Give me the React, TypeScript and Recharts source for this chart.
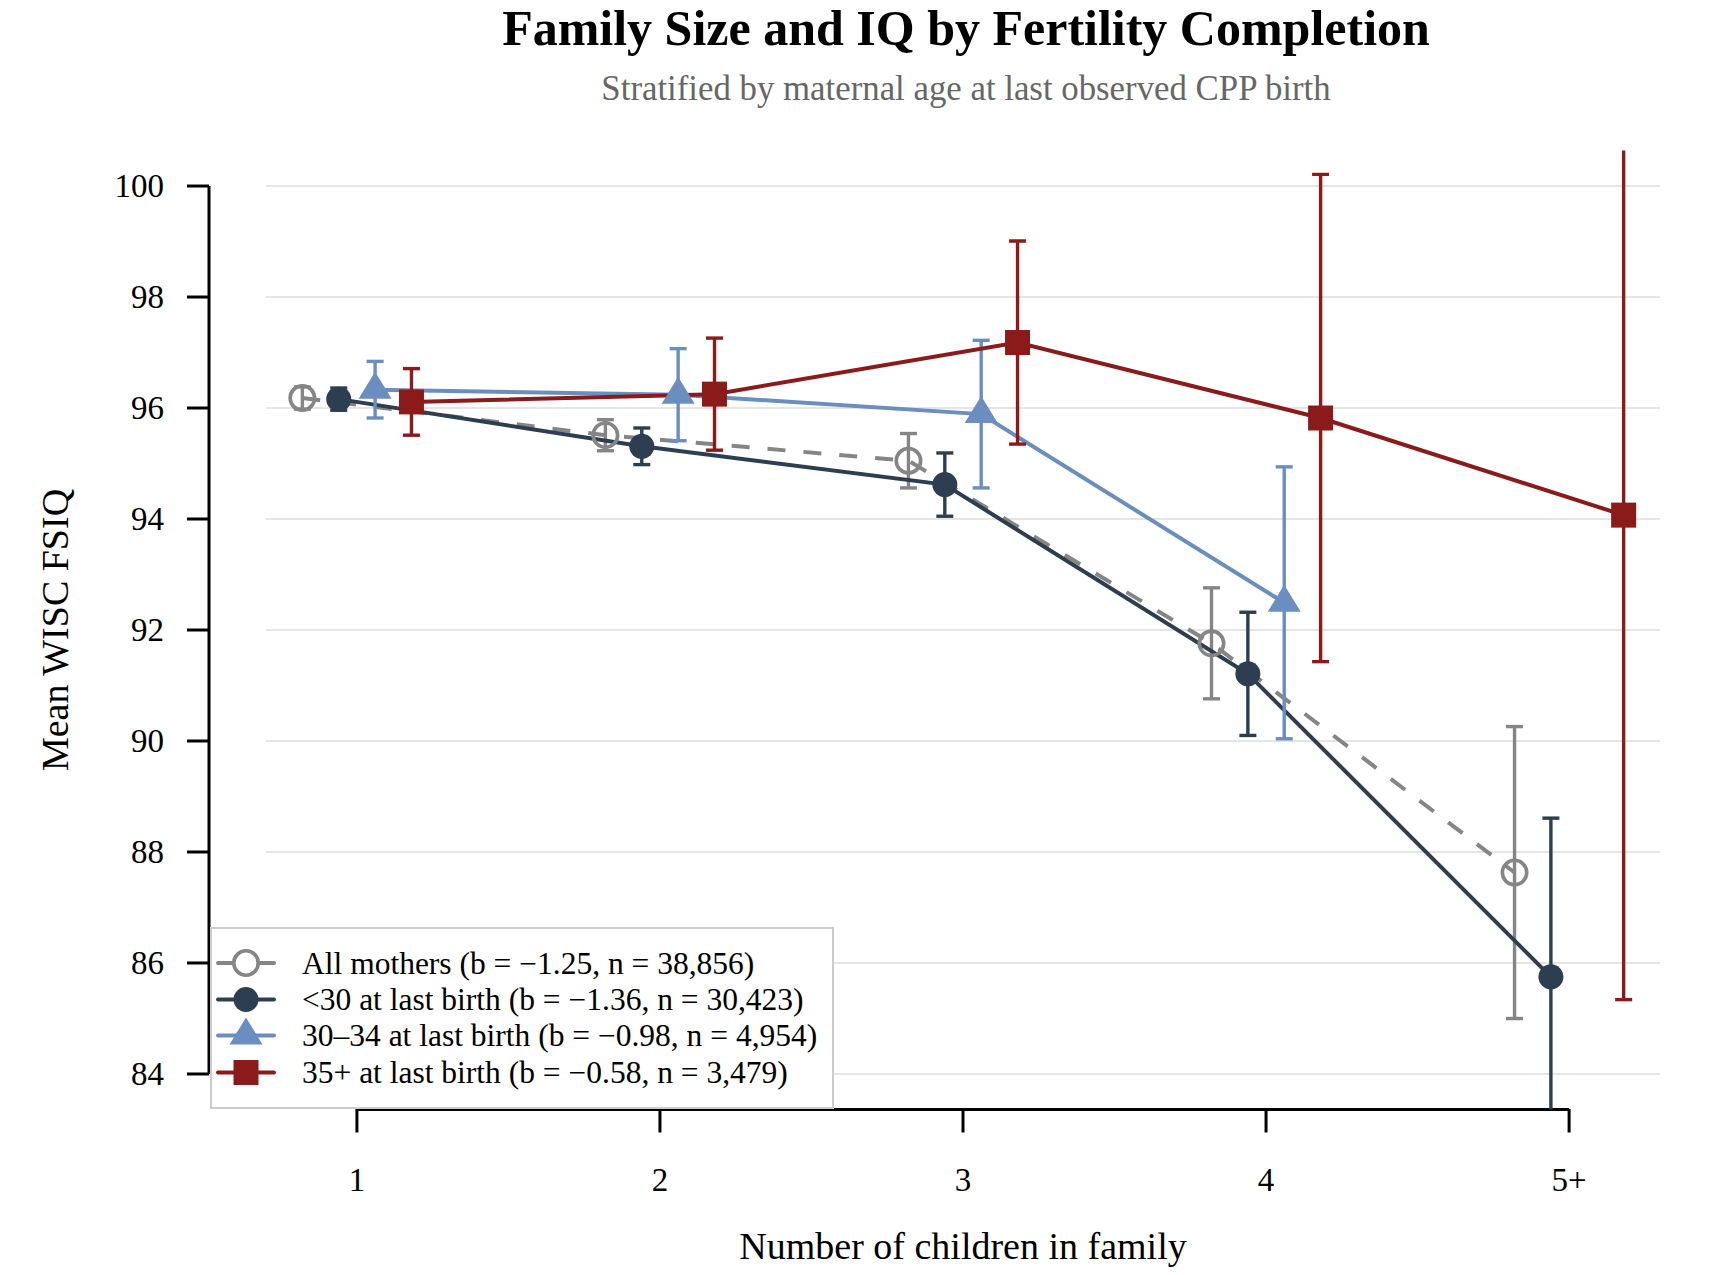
import React from 'react';
import {
  ComposedChart,
  Line,
  XAxis,
  YAxis,
  CartesianGrid,
  ErrorBar,
  ReferenceLine,
  Legend,
  Customized,
} from 'recharts';

// ---------------- data ----------------
const categories = ['1', '2', '3', '4', '5+'];
const yTicks = [84, 86, 88, 90, 92, 94, 96, 98, 100];

const allMothersMean = [96.18, 95.51, 95.05, 91.76, 87.63];
const allMothersCI = [0.2, 0.28, 0.49, 1.0, 2.63];

const under30Mean = [96.16, 95.31, 94.62, 91.21, 85.75];
const under30CI = [0.2, 0.33, 0.57, 1.11, 2.86];

const age3034Mean = [96.33, 96.24, 95.89, 92.49];
const age3034CI = [0.51, 0.83, 1.33, 2.45];

const age35Mean = [96.11, 96.25, 97.18, 95.82, 94.07];
const age35CI = [0.6, 1.01, 1.83, 4.39, 8.73];

const seriesLabels = [
  'All mothers (b = \u22121.25, n = 38,856)',
  '<30 at last birth (b = \u22121.36, n = 30,423)',
  '30\u201334 at last birth (b = \u22120.98, n = 4,954)',
  '35+ at last birth (b = \u22120.58, n = 3,479)',
];

// ---------------- layout / style ----------------
const W = 1712;
const H = 1275;
const PLOT_LEFT = 266;
const PLOT_RIGHT = 1660;
const PLOT_TOP = 150.5;
const PLOT_BOTTOM = 1109.5;
const Y_AXIS_W = 80;
const X_AXIS_H = 80;
const X_DOMAIN: [number, number] = [0.7, 5.3];
const Y_DOMAIN: [number, number] = [83.36, 100.64];
const Y_AXIS_PX = 209;
const FONT = "'Liberation Serif', 'Times New Roman', serif";

const pxPerX = (PLOT_RIGHT - PLOT_LEFT) / (X_DOMAIN[1] - X_DOMAIN[0]);
const Y_AXIS_XVAL = X_DOMAIN[0] - (PLOT_LEFT - Y_AXIS_PX) / pxPerX;

type Shape = 'open' | 'circle' | 'triangle' | 'square';

const series = [
  { key: 'all', mean: allMothersMean, ci: allMothersCI, color: '#858585', offset: -0.18, shape: 'open' as Shape, dash: '18 18' },
  { key: 'u30', mean: under30Mean, ci: under30CI, color: '#2c3e50', offset: -0.06, shape: 'circle' as Shape, dash: undefined },
  { key: 'a3034', mean: age3034Mean, ci: age3034CI, color: '#6a8ec0', offset: 0.06, shape: 'triangle' as Shape, dash: undefined },
  { key: 'a35', mean: age35Mean, ci: age35CI, color: '#8b1a1a', offset: 0.18, shape: 'square' as Shape, dash: undefined },
];

const buildData = (mean: number[], ci: number[], offset: number) =>
  mean.map((m, i) => ({ x: i + 1 + offset, y: m, err: ci[i] }));

function Marker({ cx, cy, shape, color }: { cx: number; cy: number; shape: Shape; color: string }) {
  if (shape === 'open') {
    return <circle cx={cx} cy={cy} r={12.2} fill="none" stroke={color} strokeWidth={3.6} />;
  }
  if (shape === 'circle') {
    return <circle cx={cx} cy={cy} r={12.5} fill={color} />;
  }
  if (shape === 'triangle') {
    const h = 27;
    const hb = 16.5;
    return (
      <polygon
        points={`${cx},${cy - (2 * h) / 3} ${cx - hb},${cy + h / 3} ${cx + hb},${cy + h / 3}`}
        fill={color}
      />
    );
  }
  const s = 25;
  return <rect x={cx - s / 2} y={cy - s / 2} width={s} height={s} fill={color} />;
}

const YTick = (props: any) => {
  const { y, payload } = props;
  return (
    <g>
      <line x1={Y_AXIS_PX - 22} x2={Y_AXIS_PX} y1={y} y2={y} stroke="#000" strokeWidth={3} />
      <text x={164} y={y} dy="0.34em" textAnchor="end" fontFamily={FONT} fontSize={33} fill="#000">
        {payload.value}
      </text>
    </g>
  );
};

const XTick = (props: any) => {
  const { x, payload } = props;
  return (
    <g>
      <line x1={x} x2={x} y1={PLOT_BOTTOM - 0.5} y2={PLOT_BOTTOM + 23} stroke="#000" strokeWidth={3} />
      <text x={x} y={1191} textAnchor="middle" fontFamily={FONT} fontSize={33} fill="#000">
        {categories[Math.round(payload.value) - 1]}
      </text>
    </g>
  );
};

const LegendBox = () => {
  const rowY = [36, 72.5, 108.5, 145.5];
  return (
    <svg width={624} height={182} style={{ display: 'block' }}>
      <rect x={1} y={1} width={622} height={180} fill="#fff" stroke="#cccccc" strokeWidth={2} />
      {series.map((s, i) => (
        <g key={s.key}>
          <line x1={8} x2={64} y1={rowY[i]} y2={rowY[i]} stroke={s.color} strokeWidth={4} strokeLinecap="round" />
          {s.shape === 'open' && <circle cx={36} cy={rowY[i]} r={11} fill="#fff" />}
          <Marker cx={36} cy={rowY[i]} shape={s.shape} color={s.color} />
          <text x={92} y={rowY[i]} dy="0.34em" fontFamily={FONT} fontSize={31.5} fill="#000">
            {seriesLabels[i]}
          </text>
        </g>
      ))}
    </svg>
  );
};

const Titles = () => (
  <g>
    <defs>
      <clipPath id="plot-clip">
        <rect x={PLOT_LEFT} y={PLOT_TOP} width={PLOT_RIGHT - PLOT_LEFT} height={PLOT_BOTTOM - PLOT_TOP} />
      </clipPath>
    </defs>
    <text x={966} y={45} textAnchor="middle" fontFamily={FONT} fontWeight="bold" fontSize={50} fill="#000">
      Family Size and IQ by Fertility Completion
    </text>
    <text x={966} y={100} textAnchor="middle" fontFamily={FONT} fontSize={34.8} fill="#666666">
      Stratified by maternal age at last observed CPP birth
    </text>
    <text x={963} y={1259} textAnchor="middle" fontFamily={FONT} fontSize={38} fill="#000">
      Number of children in family
    </text>
    <text
      x={55}
      y={630}
      textAnchor="middle"
      dy="0.34em"
      transform={`rotate(-90 55 630)`}
      fontFamily={FONT}
      fontSize={38}
      fill="#000"
    >
      Mean WISC FSIQ
    </text>
  </g>
);

const gridGen = (args: any) => {
  const sc = args?.yAxis?.scale;
  if (typeof sc === 'function') return yTicks.map((t) => sc(t));
  if (sc && typeof sc.map === 'function') return yTicks.map((t) => sc.map(t));
  return [];
};

export default function App() {
  return (
    <div style={{ width: W, height: H, margin: -8, background: '#fff' }}>
      <style>{`.recharts-line, .recharts-errorBars { clip-path: url(#plot-clip); }`}</style>
      <ComposedChart
        width={W}
        height={H}
        margin={{
          top: PLOT_TOP,
          right: W - PLOT_RIGHT,
          bottom: H - PLOT_BOTTOM - X_AXIS_H,
          left: PLOT_LEFT - Y_AXIS_W,
        }}
        style={{ fontFamily: FONT }}
      >
        <CartesianGrid
          horizontal
          vertical={false}
          stroke="#dddddd"
          strokeWidth={1.5}
          horizontalCoordinatesGenerator={gridGen}
        />
        <XAxis
          type="number"
          dataKey="x"
          domain={X_DOMAIN}
          allowDataOverflow
          ticks={[1, 2, 3, 4, 5]}
          height={X_AXIS_H}
          axisLine={false}
          tickLine={false}
          tick={<XTick />}
          interval={0}
        />
        <YAxis
          type="number"
          domain={Y_DOMAIN}
          allowDataOverflow
          ticks={yTicks}
          width={Y_AXIS_W}
          axisLine={false}
          tickLine={false}
          tick={<YTick />}
          interval={0}
        />
        <ReferenceLine
          segment={[{ x: 1, y: Y_DOMAIN[0] }, { x: 5, y: Y_DOMAIN[0] }]}
          stroke="#000"
          strokeWidth={3}
          ifOverflow="visible"
        />
        <ReferenceLine
          segment={[{ x: Y_AXIS_XVAL, y: 84 }, { x: Y_AXIS_XVAL, y: 100 }]}
          stroke="#000"
          strokeWidth={3}
          ifOverflow="visible"
        />
        {series.map((s) => (
          <Line
            key={s.key}
            data={buildData(s.mean, s.ci, s.offset)}
            dataKey="y"
            type="linear"
            stroke={s.color}
            strokeWidth={4}
            strokeDasharray={s.dash}
            isAnimationActive={false}
            activeDot={false}
            legendType="none"
            dot={(p: any) => <Marker key={`${s.key}-${p.index}`} cx={p.cx} cy={p.cy} shape={s.shape} color={s.color} />}
          >
            <ErrorBar dataKey="err" width={8.5} strokeWidth={3.4} stroke={s.color} direction="y" isAnimationActive={false} />
          </Line>
        ))}
        <Legend
          layout="horizontal"
          verticalAlign="middle"
          align="center"
          content={() => <LegendBox />}
          wrapperStyle={{ left: 210, top: 926.5, width: 624, height: 182 }}
        />
        <Customized component={Titles} />
      </ComposedChart>
    </div>
  );
}
